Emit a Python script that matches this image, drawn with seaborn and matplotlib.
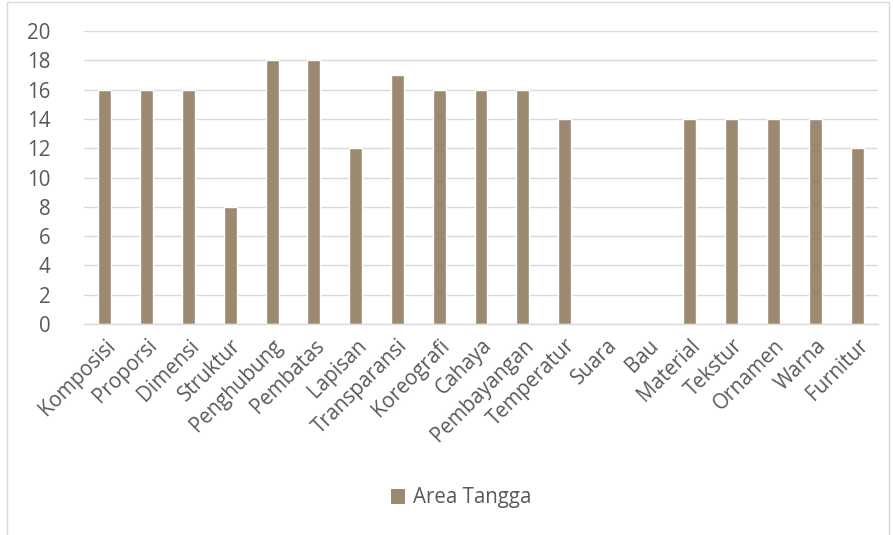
import matplotlib
matplotlib.use("Agg")
import matplotlib.pyplot as plt
import seaborn as sns
import pandas as pd
from matplotlib.patches import Rectangle

categories = ["Komposisi", "Proporsi", "Dimensi", "Struktur", "Penghubung", "Pembatas",
              "Lapisan", "Transparansi", "Koreografi", "Cahaya", "Pembayangan", "Temperatur",
              "Suara", "Bau", "Material", "Tekstur", "Ornamen", "Warna", "Furnitur"]
values = [16, 16, 16, 8, 18, 18, 12, 17, 16, 16, 16, 14, 0, 0, 14, 14, 14, 14, 12]
series_name = "Area Tangga"
y_ticks = [0, 2, 4, 6, 8, 10, 12, 14, 16, 18, 20]

sns.set_theme(style="white")
plt.rcParams["font.family"] = ["Open Sans", "DejaVu Sans"]

df = pd.DataFrame({"kategori": categories, "nilai": values})

bar_color = "#9B8A6F"
text_color = "#595959"
grid_color = "#D9D9D9"
fs = 14.8

fig = plt.figure(figsize=(8.93, 5.35), dpi=100)
ax = fig.add_axes([84 / 893, 1 - 324 / 535, (878 - 84) / 893, (324 - 31) / 535])

sns.barplot(data=df, x="kategori", y="nilai", color=bar_color, width=0.31,
            saturation=1, ax=ax, label=series_name)

ax.set_ylim(0, 20)
ax.set_xlim(-0.5, len(categories) - 0.5)
ax.set_yticks(y_ticks)
ax.set_yticklabels([str(t) for t in y_ticks], fontsize=fs, color=text_color)
ax.yaxis.grid(True, color=grid_color, linewidth=1)
ax.set_axisbelow(True)
ax.set_xlabel("")
ax.set_ylabel("")
ax.tick_params(axis="both", length=0)
ax.tick_params(axis="y", pad=24)
ax.set_xticks(range(len(categories)))
ax.set_xticklabels(categories, rotation=45, ha="right", rotation_mode="anchor",
                   fontsize=fs, color=text_color)
ax.tick_params(axis="x", pad=8)
for s in ["top", "right", "left"]:
    ax.spines[s].set_visible(False)
ax.spines["bottom"].set_color(grid_color)
ax.spines["bottom"].set_linewidth(1)

if ax.get_legend() is not None:
    ax.get_legend().remove()

# outer chart frame
fig.patches.append(Rectangle((7 / 893, -0.05), (889 - 7) / 893, 1.05 - 2 / 535,
                             transform=fig.transFigure, fill=False,
                             edgecolor=grid_color, linewidth=1))

# legend below the plot
handles = [Rectangle((0, 0), 1, 1, facecolor=bar_color, edgecolor="none")]
fig.legend(handles, [series_name], loc="center", bbox_to_anchor=(461 / 893, 1 - 498 / 535),
           frameon=False, fontsize=fs, labelcolor=text_color,
           handlelength=0.7, handleheight=0.7, handletextpad=0.35)

fig.savefig("out.png", dpi=100)
